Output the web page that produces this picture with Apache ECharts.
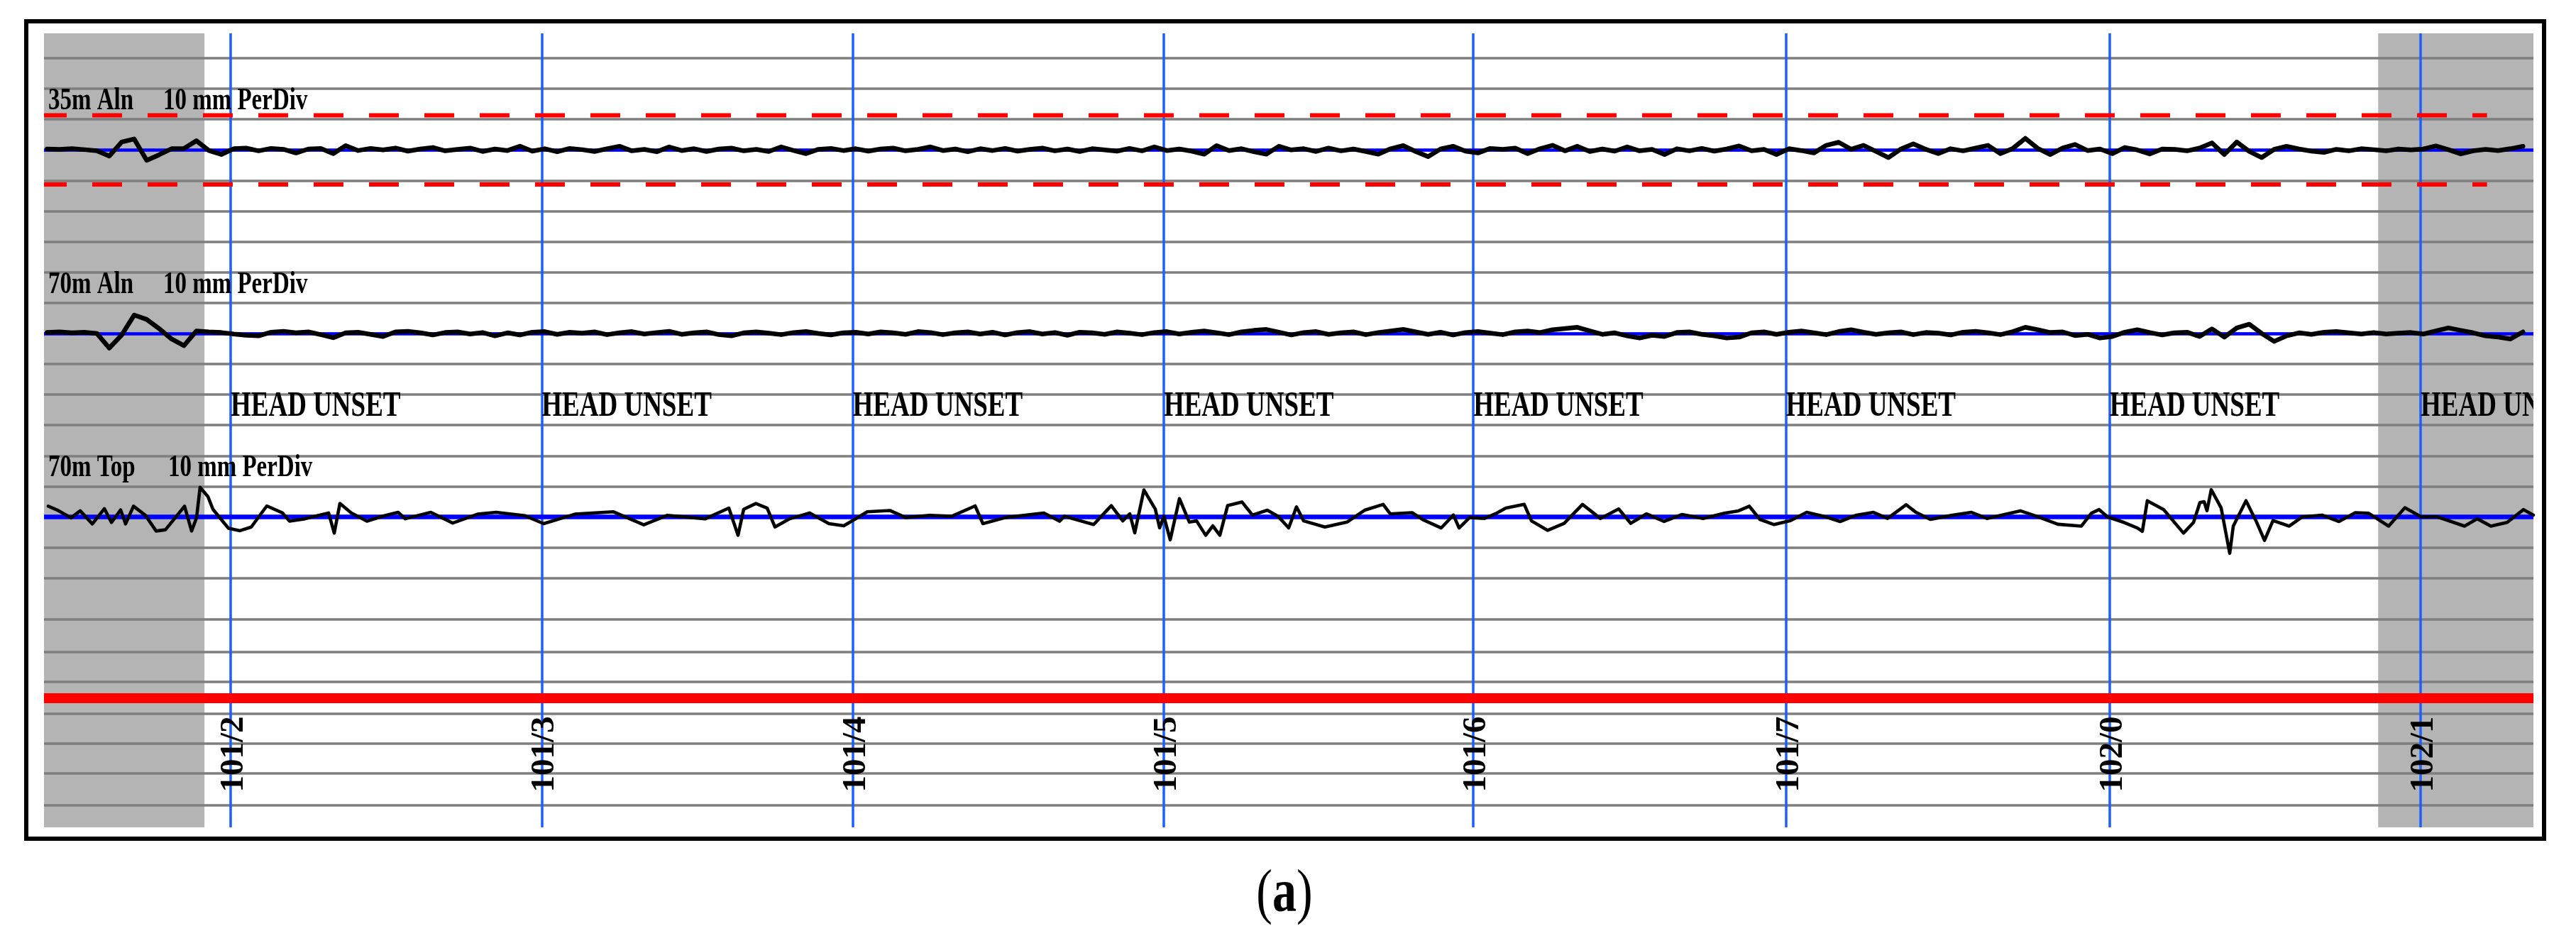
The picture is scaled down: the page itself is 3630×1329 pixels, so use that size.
<!DOCTYPE html>
<html><head><meta charset="utf-8">
<script src="https://cdn.jsdelivr.net/npm/echarts@6/dist/echarts.min.js"></script>
<style>html,body{margin:0;padding:0;background:#fff}#c{width:3630px;height:1329px}</style>
</head><body><div id="c"></div>
<script>
// ================= DATA =================
// distance axis: yards past milepost 101 (measured)
const xMin = 308, xMax = 2068.8;
const postPositions = [440, 660, 880, 1100, 1319, 1540, 1769, 1989];
const postLabels = ['101/2', '101/3', '101/4', '101/5', '101/6', '101/7', '102/0', '102/1'];
const headUnsetText = 'HEAD UNSET';
const grayRanges = [[308, 421.5], [1959, 2068.8]];
const traceNames = ['35m Aln', '70m Aln', '70m Top'];
const perDivText = '10 mm PerDiv';
const perDivX = [392.3, 392.3, 395.8];
const nameX = 311;
// chart divisions (10 mm each), counted down from the first ruled line
const traceBaseDivs = [3, 9, 15];
const gridLineDivs = [0, 1, 2, 3, 4, 5, 6, 7, 8, 9, 10, 11, 12, 13, 14, 15, 16, 17, 18.35, 19.42, 20.39, 21.44, 22.41, 23.39, 24.43];
const redLineDiv = 20.93;
const headUnsetDiv = 11.4;
const postLabelDiv = 24.0;
const labelDivOffset = -1.6;
const limit35 = 11.3;          // mm
const limitEnd = 2036;         // yards
// 35m / 70m alignment traces, sampled every 8.8 yd from 310.2 yd (mm)
const sampleStart = 310.2, sampleStep = 8.8;
const aln35 = [
0.3,0.2,0.4,0.1,-0.3,-2.0,2.6,3.6,-3.4,-1.6,
0.4,0.5,3.0,-0.2,-1.5,0.4,0.6,-0.3,0.5,0.2,
-1.0,0.3,0.5,-1.2,1.4,-0.2,0.5,0.0,0.6,-0.4,
0.3,0.8,-0.3,0.2,0.6,-0.5,0.3,-0.2,1.2,-0.4,
0.4,-0.6,0.5,0.1,-0.5,0.4,1.2,-0.3,0.2,-0.6,
1.0,-0.2,0.4,-0.5,0.3,0.6,-0.3,0.2,-0.5,1.0,
-0.2,-1.2,0.2,0.5,-0.2,0.4,-0.4,0.3,0.6,-0.3,
0.2,1.0,-0.2,0.3,-0.6,0.4,-0.2,0.5,-0.4,0.2,
0.6,-0.3,0.3,-0.5,0.4,0.0,-0.4,0.5,-0.3,1.0,
-0.2,0.3,-0.4,-1.4,1.4,-0.2,0.4,-0.6,-1.4,1.2,
0.0,0.4,-0.5,0.6,-0.3,0.3,-0.5,-1.4,0.4,1.4,
-0.5,-2.2,0.3,1.2,-0.4,-1.0,0.5,0.2,0.6,-1.2,
0.4,1.5,-0.3,1.2,-0.5,0.3,-0.4,1.0,-0.3,0.2,
-1.5,0.4,-0.3,0.5,-0.4,0.3,1.3,-0.3,0.2,-1.5,
0.4,-0.2,-1.0,1.5,2.5,0.2,1.5,-0.5,-2.5,0.3,
2.0,0.2,-1.2,0.4,-0.3,0.6,1.5,-1.2,0.5,3.8,
0.5,-1.5,0.6,1.8,-0.2,0.3,-1.2,0.8,0.0,-1.3,
0.3,0.2,-0.3,0.6,2.3,-1.5,2.6,-0.5,-2.5,0.2,
1.2,0.3,-0.4,-0.8,0.2,-0.3,0.4,0.1,-0.3,0.3,
0.0,0.3,1.3,0.1,-1.3,-0.3,0.2,-0.2,0.4,1.2
];
const aln70 = [
0.3,0.5,0.2,0.4,0.0,-4.8,-0.5,6.0,4.6,1.6,
-1.8,-4.0,0.8,0.5,0.3,-0.2,-0.6,-0.8,0.4,0.7,
0.2,0.5,-0.4,-1.4,0.2,0.4,-0.3,-1.0,0.5,0.7,
0.2,-0.5,0.3,0.5,-0.2,0.3,-0.8,0.2,-0.5,0.4,
0.6,-0.3,0.4,0.1,0.5,-0.4,0.2,0.6,-0.2,0.3,
0.7,-0.3,0.2,0.5,-0.4,-0.8,0.2,0.5,0.1,-0.4,
0.3,0.6,0.0,-0.5,0.2,0.4,-0.2,0.5,0.2,-0.3,
0.6,0.3,-0.4,0.2,0.5,-0.2,0.4,-0.5,0.3,0.6,
-0.2,0.3,-0.6,0.4,0.2,-0.3,0.5,0.1,-0.4,0.3,
0.6,-0.2,0.4,0.8,0.2,-0.4,0.5,1.0,1.3,0.4,
-0.5,0.3,0.6,-0.3,0.2,0.5,-0.4,0.3,0.8,1.3,
0.5,-0.3,0.4,-0.5,0.3,0.6,0.1,-0.4,0.5,0.8,
0.3,1.2,1.6,2.0,0.8,-0.3,0.2,-0.8,-1.5,-0.6,
-1.0,0.3,0.5,-0.3,-0.8,-1.5,-1.2,0.2,0.5,-0.3,
0.4,0.8,0.2,-0.4,0.6,1.2,0.4,-0.3,0.2,0.5,
-0.4,0.3,0.1,-0.5,0.4,0.7,0.2,-0.4,0.6,2.0,
1.2,0.3,0.5,-0.7,-0.3,-1.5,-1.0,0.4,1.2,0.3,
-0.5,0.2,0.4,-1.0,1.5,-1.2,1.8,3.0,0.0,-2.6,
-0.8,0.2,-0.3,0.4,0.6,0.2,-0.2,0.3,-0.2,0.1,
0.3,-0.2,0.8,1.8,1.0,0.2,-0.8,-1.2,-1.8,0.5
];
// 70m top trace: [yards, mm]
const top70 = [
[311.0,3.5],[317.1,2.3],[327.1,-0.3],[333.6,2.0],[342.2,-2.3],[350.7,2.7],[355.7,-1.8],[362.2,2.3],[365.7,-2.3],[371.3,3.5],
[379.8,0.5],[387.3,-4.6],[393.9,-4.2],[407.4,3.5],[412.4,-4.6],[415.9,-0.3],[418.4,9.7],[424.0,6.6],[427.5,2.5],[434.0,-1.2],
[438.5,-3.7],[446.6,-4.5],[454.6,-3.3],[465.6,3.6],[476.7,1.3],[481.7,-1.4],[492.7,-0.6],[509.3,1.3],[513.3,-5.3],[517.3,4.4],
[525.4,1.3],[536.4,-1.4],[547.9,0.3],[558.5,1.5],[563.5,-0.6],[581.6,1.5],[597.1,-2.0],[614.7,0.9],[627.8,1.5],[648.3,0.4],
[661.4,-2.2],[683.5,0.9],[710.6,1.7],[732.2,-2.6],[748.7,0.5],[775.8,-0.6],[792.4,2.9],[798.9,-6.0],[802.9,2.5],[811.5,4.4],
[819.5,2.9],[825.0,-3.3],[835.5,-0.6],[849.6,1.3],[863.2,-2.2],[873.7,-2.9],[882.2,-0.6],[890.3,1.7],[906.3,2.1],[917.4,-0.2],
[934.4,0.5],[950.0,0.2],[966.6,3.6],[972.1,-2.2],[988.1,-0.2],[1015.2,1.3],[1026.3,-1.4],[1029.8,0.2],[1050.4,-2.5],[1062.9,3.7],
[1071.0,-1.3],[1076.0,1.0],[1079.5,-5.2],[1086.0,8.8],[1094.0,2.6],[1097.1,-3.6],[1100.1,0.2],[1104.6,-7.5],[1111.1,6.0],[1118.1,-1.7],
[1123.2,-1.3],[1129.7,-6.0],[1134.7,-2.9],[1139.7,-6.0],[1145.2,3.7],[1155.3,4.9],[1162.8,0.6],[1173.3,2.2],[1180.9,0.2],[1188.4,-3.6],
[1193.9,3.3],[1199.0,-1.3],[1214.0,-3.3],[1229.6,-1.7],[1242.1,2.2],[1255.2,4.1],[1260.2,1.0],[1275.7,1.4],[1283.3,-0.9],[1296.3,-3.6],
[1304.9,0.6],[1308.9,-3.6],[1316.4,-0.2],[1326.9,-0.5],[1334.5,1.0],[1342.0,2.9],[1355.0,4.1],[1360.1,-1.3],[1371.6,-4.4],[1383.2,-2.1],
[1396.2,4.1],[1408.8,-0.5],[1421.8,2.6],[1430.3,-2.1],[1441.4,1.0],[1453.9,-1.5],[1466.5,0.8],[1481.5,-0.5],[1496.6,1.2],[1506.6,2.0],
[1514.2,3.5],[1521.7,-0.8],[1531.7,-2.5],[1543.3,-1.2],[1554.8,1.5],[1566.9,0.2],[1578.4,-1.5],[1589.4,0.5],[1602.0,1.5],[1612.0,-0.5],
[1625.1,4.0],[1632.1,1.5],[1642.2,-0.8],[1657.2,0.5],[1671.3,1.5],[1682.3,-0.5],[1694.9,0.8],[1705.9,2.0],[1717.4,0.2],[1732.5,-2.4],
[1749.1,-3.0],[1756.1,1.2],[1761.6,2.4],[1767.6,0.0],[1779.2,-1.8],[1788.7,-3.6],[1792.2,-4.7],[1795.7,5.3],[1807.3,2.4],[1821.3,-5.3],
[1828.4,-1.8],[1832.9,4.7],[1835.9,5.0],[1837.9,2.0],[1840.9,8.9],[1847.9,3.0],[1854.0,-11.9],[1856.5,-3.0],[1865.5,5.3],[1872.5,-1.2],
[1878.6,-7.7],[1884.6,-1.2],[1896.1,-3.0],[1905.2,0.0],[1919.2,0.6],[1931.3,-1.5],[1942.8,1.4],[1952.3,1.2],[1966.4,-3.0],[1977.9,3.0],
[1989.5,0.0],[2001.0,0.0],[2020.1,-3.0],[2029.1,-0.6],[2038.7,-3.0],[2050.2,-1.8],[2061.8,2.4],[2068.8,0.6]
];

// ================= LAYOUT / STYLE =================
const P = {left: 62, right: 3570, top: 47, bottom: 1166};
const divMin = -0.812, divMax = 25.15;
const pxPerDiv = (P.bottom - P.top) / (divMax - divMin);
const SERIF = '"Liberation Serif", "Times New Roman", serif';

const grids = [{left: P.left, width: P.right - P.left, top: P.top, height: P.bottom - P.top}];
traceBaseDivs.forEach(b => grids.push({
  left: P.left, width: P.right - P.left,
  top: P.top + (b - 3 - divMin) * pxPerDiv, height: 6 * pxPerDiv
}));
const xAxes = grids.map((g, i) => ({type: 'value', gridIndex: i, min: xMin, max: xMax, show: false}));
const yAxes = [{type: 'value', gridIndex: 0, min: divMin, max: divMax, inverse: true, show: false}];
for (let k = 1; k <= 3; k++) yAxes.push({type: 'value', gridIndex: k, min: -30, max: 30, show: false});

const sampled = arr => arr.map((v, i) => [sampleStart + i * sampleStep, v]);
const traceData = [sampled(aln35), sampled(aln70), top70];
const traceWidths = [6.5, 6.5, 4.6];
const baseWidths = [4.5, 4.5, 6.5];

const ml = (extra) => Object.assign({silent: true, symbol: ['none', 'none'], label: {show: false},
  emphasis: {disabled: true}, animation: false}, extra);

const series = [];
series.push({type: 'line', xAxisIndex: 0, yAxisIndex: 0, data: [], z: 1, silent: true,
  markArea: {silent: true, itemStyle: {color: '#b4b4b4', opacity: 1}, emphasis: {disabled: true},
    data: grayRanges.map(r => [{xAxis: r[0]}, {xAxis: r[1]}])}});
series.push({type: 'line', xAxisIndex: 0, yAxisIndex: 0, data: [], z: 2, silent: true,
  markLine: ml({lineStyle: {color: '#7e7e7e', width: 3.5, type: 'solid'},
    data: gridLineDivs.map(v => ({yAxis: v}))})});
series.push({type: 'line', xAxisIndex: 0, yAxisIndex: 0, data: [], z: 3, silent: true,
  markLine: ml({lineStyle: {color: '#1a5fff', width: 3.5, type: 'solid'},
    data: postPositions.map(v => ({xAxis: v}))})});
for (let k = 0; k < 3; k++) {
  series.push({type: 'line', xAxisIndex: k + 1, yAxisIndex: k + 1, data: [], z: 4, silent: true,
    markLine: ml({lineStyle: {color: '#0000ff', width: baseWidths[k], type: 'solid'}, data: [{yAxis: 0}]})});
}
[limit35, -limit35].forEach(v => series.push({
  type: 'line', xAxisIndex: 1, yAxisIndex: 1, z: 5, silent: true, symbol: 'none',
  data: [[xMin, v], [limitEnd, v]],
  lineStyle: {color: '#ff0000', width: 6, type: [42, 36], dashOffset: 10}
}));
for (let k = 0; k < 3; k++) {
  series.push({type: 'line', name: traceNames[k], xAxisIndex: k + 1, yAxisIndex: k + 1, z: 6, silent: true,
    symbol: 'none', showSymbol: false, data: traceData[k],
    lineStyle: {color: '#000', width: traceWidths[k], join: 'round', cap: 'round'}});
}
series.push({type: 'line', xAxisIndex: 0, yAxisIndex: 0, data: [], z: 7, silent: true,
  markLine: ml({lineStyle: {color: '#ff0000', width: 14, type: 'solid'}, data: [{yAxis: redLineDiv}]})});

// HEAD UNSET labels (clipped to the plot)
series.push({type: 'custom', xAxisIndex: 0, yAxisIndex: 0, z: 8, silent: true, clip: true,
  data: postPositions.map(p => [p, headUnsetDiv]),
  renderItem: (params, api) => {
    const pt = api.coord([api.value(0), api.value(1)]);
    return {type: 'text', x: pt[0], y: pt[1], scaleY: 1.37,
      style: {text: headUnsetText, font: 'bold 37px ' + SERIF, fill: '#000', align: 'left', verticalAlign: 'middle'}};
  }});
// milepost labels
series.push({type: 'custom', xAxisIndex: 0, yAxisIndex: 0, z: 8, silent: true,
  data: postPositions.map(p => [p, postLabelDiv]),
  renderItem: (params, api) => {
    const pt = api.coord([api.value(0), api.value(1)]);
    return {type: 'text', x: pt[0] + 5, y: pt[1], rotation: Math.PI / 2,
      style: {text: postLabels[params.dataIndex], font: 'bold 47px ' + SERIF, fill: '#000', align: 'left', verticalAlign: 'middle'}};
  }});
// trace titles
const titleItems = [];
traceBaseDivs.forEach((b, k) => {
  titleItems.push({v: [nameX, b + labelDivOffset], t: traceNames[k]});
  titleItems.push({v: [perDivX[k], b + labelDivOffset], t: perDivText});
});
series.push({type: 'custom', xAxisIndex: 0, yAxisIndex: 0, z: 8, silent: true,
  data: titleItems.map(d => d.v),
  renderItem: (params, api) => {
    const pt = api.coord([api.value(0), api.value(1)]);
    return {type: 'text', x: pt[0], y: pt[1], scaleY: 1.37,
      style: {text: titleItems[params.dataIndex].t, font: 'bold 33px ' + SERIF, fill: '#000', align: 'left', verticalAlign: 'middle'}};
  }});

const chart = echarts.init(document.getElementById('c'), null, {renderer: 'canvas'});
chart.setOption({
  animation: false,
  backgroundColor: '#ffffff',
  grid: grids,
  xAxis: xAxes,
  yAxis: yAxes,
  series: series,
  graphic: [
    {type: 'rect', z: 100, silent: true, shape: {x: 37, y: 30, width: 3548, height: 1152},
      style: {fill: 'none', stroke: '#000', lineWidth: 6}},
    {type: 'text', z: 100, silent: true, x: 1810, y: 1262, scaleY: 1.28,
      style: {text: '{p|(}{a|a}{p|)}', align: 'center', verticalAlign: 'middle', fill: '#000',
        rich: {p: {fontSize: 68, fontFamily: SERIF, fill: '#000'},
               a: {fontSize: 68, fontFamily: SERIF, fontWeight: 'bold', fill: '#000'}}}}
  ]
});
</script>
</body></html>
